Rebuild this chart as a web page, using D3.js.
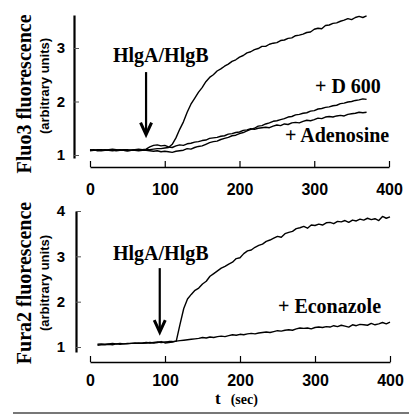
<!DOCTYPE html>
<html>
<head>
<meta charset="utf-8">
<script src="https://cdn.jsdelivr.net/npm/d3@7"></script>
<style>
  body { margin: 0; background: #fff; }
  svg { display: block; background: #fff; }
</style>
</head>
<body>
<svg id="chart" width="409" height="415"></svg>
<script>
// ---- Fluo3 panel (top): sampling times in seconds ----
const fluo3Time = [
  0,5,10,15,20,25,30,35,40,45,50,55,60,65,70,75,
  80,85,90,95,100,105,
  110,115,120,125,130,135,140,145,150,155,
  160,165,170,175,180,185,190,195,200,205,
  210,215,220,225,230,235,240,245,250,255,
  260,265,270,275,280,285,290,295,300,305,
  310,315,320,325,330,335,340,345,350,355,
  360,365,370
];
const fluo3Hlg = [
  1.09,1.10,1.08,1.09,1.10,1.09,1.08,1.09,1.10,1.09,1.08,1.09,1.10,1.09,1.09,1.10,
  1.10,1.11,1.12,1.12,1.13,1.14,
  1.20,1.32,1.48,1.62,1.80,1.95,2.06,2.17,2.26,2.37,
  2.45,2.50,2.57,2.61,2.66,2.70,2.75,2.78,2.83,2.86,
  2.91,2.93,2.97,2.99,3.03,3.03,3.07,3.09,3.10,3.14,
  3.15,3.18,3.19,3.23,3.24,3.26,3.29,3.30,3.35,3.37,
  3.36,3.42,3.43,3.46,3.47,3.50,3.52,3.55,3.53,3.57,
  3.59,3.57,3.60
];
const fluo3D600 = [
  1.08,1.09,1.09,1.08,1.09,1.09,1.10,1.08,1.09,1.09,1.08,1.09,1.09,1.08,1.09,1.09,
  1.08,1.07,1.08,1.06,1.07,1.06,
  1.05,1.07,1.08,1.09,1.12,1.11,1.14,1.16,1.17,1.20,
  1.23,1.25,1.26,1.29,1.31,1.33,1.36,1.37,1.40,1.42,
  1.45,1.48,1.50,1.54,1.55,1.58,1.60,1.63,1.64,1.66,
  1.68,1.71,1.72,1.75,1.76,1.78,1.79,1.82,1.83,1.86,
  1.87,1.89,1.90,1.92,1.93,1.96,1.97,1.99,2.00,2.02,
  2.03,2.05,2.04
];
const fluo3Adenosine = [
  1.10,1.09,1.10,1.10,1.09,1.10,1.11,1.10,1.09,1.10,1.10,1.09,1.10,1.11,1.10,1.11,
  1.15,1.18,1.19,1.17,1.18,1.15,
  1.14,1.17,1.19,1.18,1.21,1.22,1.24,1.25,1.27,1.28,
  1.31,1.32,1.33,1.35,1.36,1.39,1.40,1.42,1.43,1.46,
  1.47,1.49,1.48,1.50,1.51,1.52,1.51,1.54,1.56,1.55,
  1.58,1.57,1.60,1.61,1.60,1.63,1.65,1.64,1.66,1.69,
  1.68,1.71,1.72,1.71,1.73,1.74,1.73,1.76,1.77,1.78,
  1.80,1.79,1.80
];

// ---- Fura2 panel (bottom): sampling times in seconds ----
const fura2Time = [
  10,15,20,25,30,35,40,45,50,55,
  60,65,70,75,80,85,90,95,100,105,
  110,115,120,125,130,135,140,145,150,155,
  160,165,170,175,180,185,190,195,200,205,
  210,215,220,225,230,235,240,245,250,255,
  260,265,270,275,280,285,290,295,300,305,
  310,315,320,325,330,335,340,345,350,355,
  360,365,370,375,380,385,390,395,400
];
const fura2Hlg = [
  1.06,1.07,1.06,1.07,1.08,1.07,1.08,1.07,1.08,1.08,
  1.09,1.08,1.09,1.10,1.09,1.10,1.11,1.10,1.11,1.12,
  1.12,1.13,1.50,1.85,2.06,2.16,2.25,2.30,2.39,2.45,
  2.56,2.62,2.68,2.74,2.78,2.83,2.87,2.95,2.97,3.06,
  3.12,3.14,3.20,3.24,3.27,3.33,3.36,3.40,3.44,3.42,
  3.50,3.53,3.55,3.61,3.63,3.66,3.62,3.69,3.68,3.71,
  3.69,3.74,3.75,3.72,3.77,3.76,3.79,3.75,3.80,3.78,
  3.82,3.80,3.84,3.81,3.83,3.79,3.88,3.84,3.87
];
const fura2Econazole = [
  1.04,1.05,1.05,1.06,1.05,1.07,1.06,1.07,1.07,1.08,
  1.08,1.09,1.08,1.09,1.10,1.09,1.10,1.12,1.09,1.10,
  1.11,1.13,1.14,1.15,1.16,1.17,1.18,1.19,1.21,1.20,
  1.22,1.21,1.23,1.24,1.23,1.25,1.27,1.26,1.28,1.27,
  1.29,1.30,1.29,1.31,1.32,1.33,1.32,1.34,1.36,1.35,
  1.37,1.38,1.37,1.40,1.42,1.41,1.42,1.40,1.43,1.44,
  1.43,1.45,1.44,1.47,1.45,1.48,1.46,1.44,1.49,1.47,
  1.50,1.49,1.48,1.52,1.49,1.51,1.54,1.51,1.55
];

// ---- Axis ticks ----
const timeTicks = [0, 100, 200, 300, 400];
const fluo3Ticks = [1, 2, 3];
const fura2Ticks = [1, 2, 3, 4];

const svg = d3.select("#chart");
const serif = "'Liberation Serif', 'Times New Roman', Times, serif";
const sans = "'Liberation Sans', Arial, Helvetica, sans-serif";

function drawPanel(p) {
  const x = d3.scaleLinear().domain([0, 400]).range(p.xRange);
  const y = d3.scaleLinear().domain(p.yDomain).range(p.yRange);

  // vertical axis, ticks pointing inward
  const gy = svg.append("g")
    .attr("transform", `translate(${p.yAxisX},0)`)
    .call(d3.axisLeft(y).tickValues(p.yTicks).tickSize(-5).tickSizeOuter(0)
      .tickPadding(p.yPad).tickFormat(d3.format("d")));
  gy.select(".domain").attr("stroke", "#000").attr("stroke-width", 2.2);
  gy.selectAll(".tick line").attr("stroke", "#555").attr("stroke-width", 1);
  gy.selectAll(".tick text")
    .attr("font-family", sans).attr("font-weight", "bold")
    .attr("font-size", 15).attr("fill", "#000");

  // horizontal axis, ticks pointing up
  const gx = svg.append("g")
    .attr("transform", `translate(0,${p.xAxisY})`)
    .call(d3.axisBottom(x).tickValues(timeTicks).tickSize(-6).tickSizeOuter(0)
      .tickPadding(p.xPad));
  gx.select(".domain").attr("stroke", "#000").attr("stroke-width", 1.7);
  gx.selectAll(".tick line").attr("stroke", "#000").attr("stroke-width", 1.2);
  gx.selectAll(".tick text")
    .attr("font-family", sans).attr("font-weight", "bold")
    .attr("font-size", 16).attr("fill", "#000");

  // traces
  const line = d3.line().x(d => x(d[0])).y(d => y(d[1]));
  p.series.forEach(vals => {
    svg.append("path")
      .datum(p.time.map((t, i) => [t, vals[i]]))
      .attr("d", line)
      .attr("fill", "none")
      .attr("stroke", "#000")
      .attr("stroke-width", 1.4)
      .attr("stroke-linejoin", "round");
  });

  // axis titles
  svg.append("text")
    .attr("transform", `translate(${p.titleX},${p.titleY}) rotate(-90)`)
    .attr("text-anchor", "middle")
    .attr("font-family", serif).attr("font-weight", "bold").attr("font-size", 20)
    .text(p.title);
  svg.append("text")
    .attr("transform", `translate(${p.subX},${p.subY}) rotate(-90)`)
    .attr("text-anchor", "middle")
    .attr("font-family", sans).attr("font-weight", "bold").attr("font-size", 13)
    .text("(arbitrary units)");

  // toxin addition arrow
  const ax = x(p.arrowT), ay0 = y(p.arrowFrom), ay1 = y(p.arrowTo);
  svg.append("line")
    .attr("x1", ax).attr("x2", ax).attr("y1", ay0).attr("y2", ay1 - 2)
    .attr("stroke", "#000").attr("stroke-width", 2.2);
  svg.append("path")
    .attr("d", `M${ax - 5.5},${ay1 - 12}L${ax},${ay1}L${ax + 5.5},${ay1 - 12}`)
    .attr("fill", "none").attr("stroke", "#000").attr("stroke-width", 3)
    .attr("stroke-linejoin", "miter");

  // annotations
  p.labels.forEach(l => {
    svg.append("text")
      .attr("x", l.x).attr("y", l.y)
      .attr("font-family", serif).attr("font-weight", "bold").attr("font-size", 20)
      .text(l.text);
  });
}

drawPanel({
  time: fluo3Time,
  series: [fluo3Adenosine, fluo3D600, fluo3Hlg],
  xRange: [90, 389], yDomain: [0.944, 3.617], yRange: [158, 15],
  yAxisX: 74, yPad: 9, yTicks: fluo3Ticks,
  xAxisY: 167, xPad: 17,
  title: "Fluo3 fluorescence", titleX: 31, titleY: 94,
  subX: 49, subY: 86,
  arrowT: 75, arrowFrom: 2.55, arrowTo: 1.38,
  labels: [
    { text: "HlgA/HlgB", x: 113, y: 62 },
    { text: "+ D 600", x: 315, y: 93 },
    { text: "+ Adenosine", x: 285, y: 142 }
  ]
});

drawPanel({
  time: fura2Time,
  series: [fura2Econazole, fura2Hlg],
  xRange: [90, 390], yDomain: [0.89, 4], yRange: [352, 211],
  yAxisX: 76, yPad: 11, yTicks: fura2Ticks,
  xAxisY: 362, xPad: 13,
  title: "Fura2 fluorescence", titleX: 31, titleY: 283,
  subX: 49, subY: 283,
  arrowT: 93, arrowFrom: 2.74, arrowTo: 1.33,
  labels: [
    { text: "HlgA/HlgB", x: 113, y: 260 },
    { text: "+ Econazole", x: 278, y: 313 }
  ]
});

// time axis caption
const cap = svg.append("text").attr("x", 215).attr("y", 404)
  .attr("font-family", serif).attr("font-weight", "bold");
cap.append("tspan").attr("font-size", 17).text("t");
cap.append("tspan").attr("font-size", 14).attr("dx", 10).text("(sec)");

// rule under the figure
svg.append("line")
  .attr("x1", 13).attr("x2", 409).attr("y1", 413).attr("y2", 413)
  .attr("stroke", "#777").attr("stroke-width", 2);
</script>
</body>
</html>
